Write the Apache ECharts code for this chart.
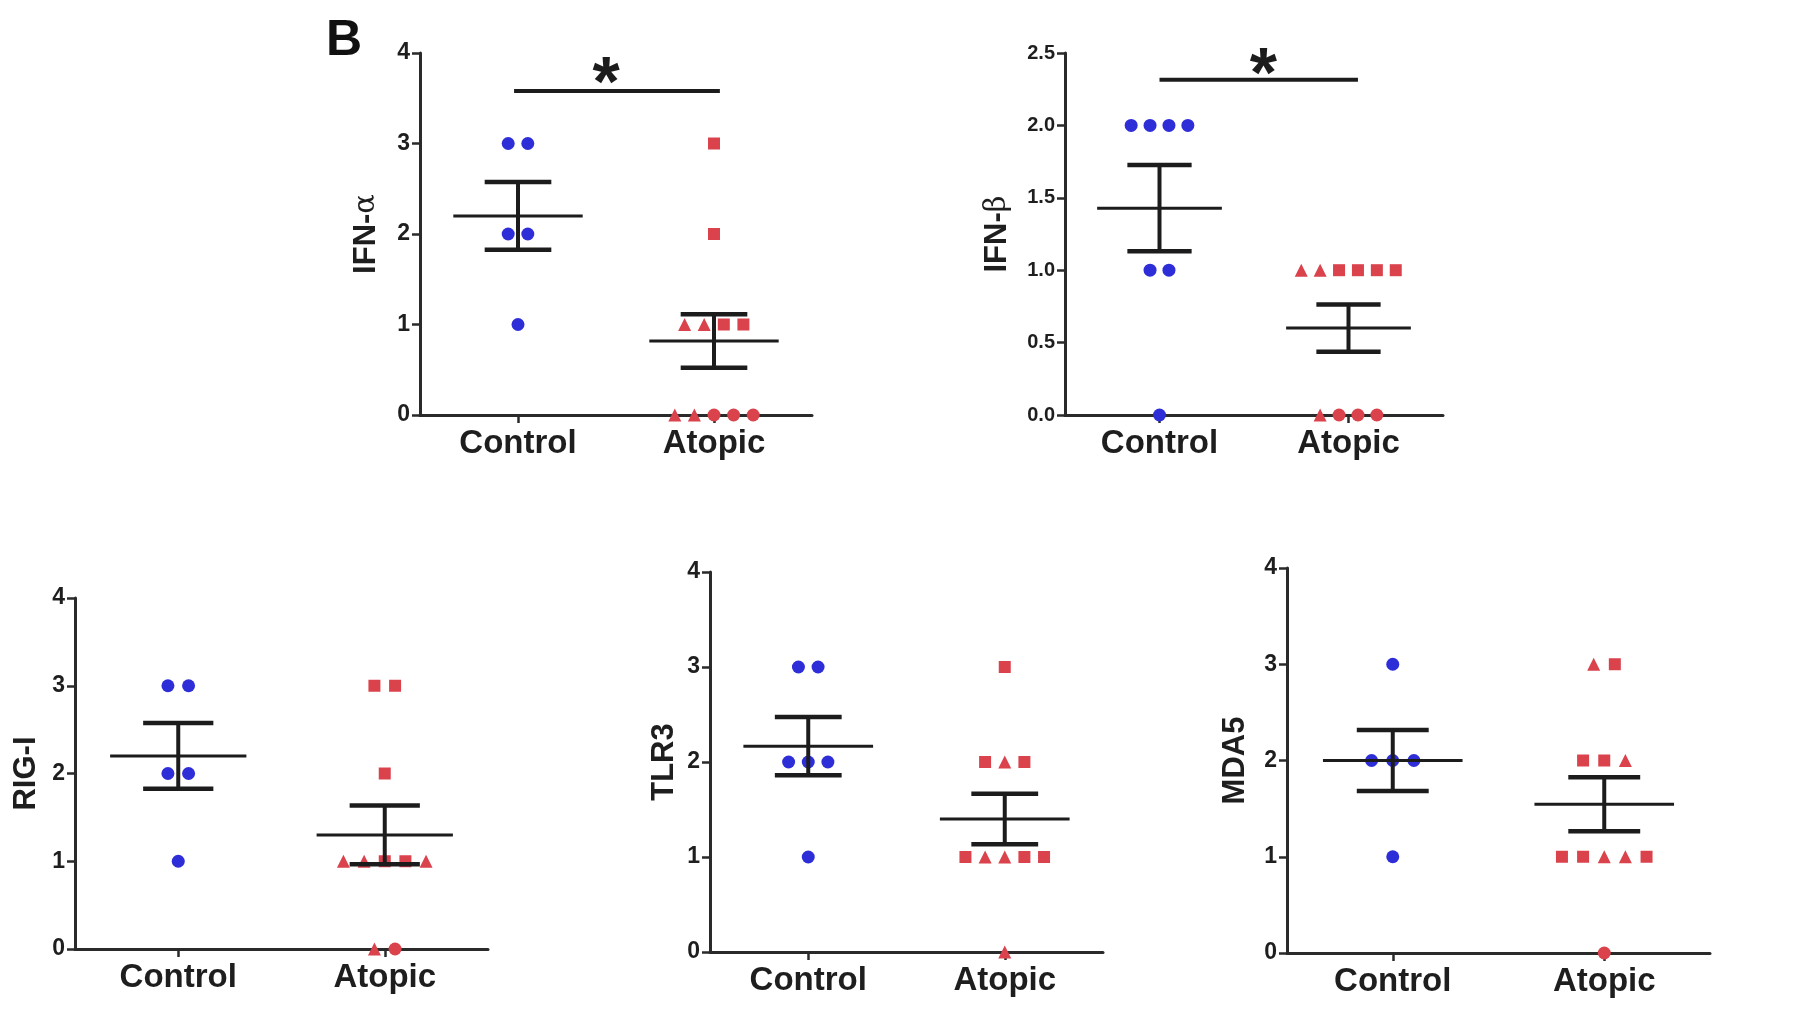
<!DOCTYPE html>
<html><head><meta charset="utf-8">
<script src="https://cdn.jsdelivr.net/npm/echarts@6/dist/echarts.min.js"></script>
<style>html,body{margin:0;padding:0;background:#fff}#c{width:1800px;height:1022px}</style>
</head><body><div id="c"></div>
<script>
// ---------------- DATA ----------------
const groups = ['Control', 'Atopic'];

const ifnA_control = [3, 3, 2, 2, 1];
const ifnA_atopic = [3, 2, 1, 1, 1, 1, 0, 0, 0, 0, 0];
const ifnA_atopicShapes = ['s', 's', 't', 't', 's', 's', 't', 't', 'c', 'c', 'c'];
const ifnA_ticks = [0, 1, 2, 3, 4];
const ifnA_sig = [0.98, 2.03, 3.58, 1.45, 3.81];   // x from, x to, bar y, star x, star y

const ifnB_control = [2, 2, 2, 2, 1, 1, 0];
const ifnB_atopic = [1, 1, 1, 1, 1, 1, 0, 0, 0, 0];
const ifnB_atopicShapes = ['t', 't', 's', 's', 's', 's', 't', 'c', 'c', 'c'];
const ifnB_ticks = [0, 0.5, 1.0, 1.5, 2.0, 2.5];
const ifnB_sig = [1.0, 2.05, 2.315, 1.55, 2.45];

const rig_control = [3, 3, 2, 2, 1];
const rig_atopic = [3, 3, 2, 1, 1, 1, 1, 1, 0, 0];
const rig_atopicShapes = ['s', 's', 's', 't', 't', 's', 's', 't', 't', 'c'];
const rig_ticks = [0, 1, 2, 3, 4];

const tlr_control = [3, 3, 2, 2, 2, 1];
const tlr_atopic = [3, 2, 2, 2, 1, 1, 1, 1, 1, 0];
const tlr_atopicShapes = ['s', 's', 't', 's', 's', 't', 't', 's', 's', 't'];
const tlr_ticks = [0, 1, 2, 3, 4];

const mda_control = [3, 2, 2, 2, 1];
const mda_atopic = [3, 3, 2, 2, 2, 1, 1, 1, 1, 1, 0];
const mda_atopicShapes = ['t', 's', 's', 's', 't', 's', 's', 't', 't', 's', 'c'];
const mda_ticks = [0, 1, 2, 3, 4];

// ---------------- LAYOUT / STYLE ----------------
const FONT = 'Liberation Sans, Arial, sans-serif';
const BLUE = '#2e2ed8';
const RED = '#da424c';
const INK = '#1c1c1c';
const SPACING = 0.1;      // horizontal spacing of equal values (x units)
const MEAN_HALF = 0.33;
const CAP_HALF = 0.17;
const shapeMap = { c: 'circle', s: 'rect', t: 'triangle' };
const sizeMap = { c: 13, s: 12, t: 13 };

const panels = [
  { name: 'IFN-{g|α}', ctrl: ifnA_control, atop: ifnA_atopic, shapes: ifnA_atopicShapes, ticks: ifnA_ticks, sig: ifnA_sig,
    grid: { left: 420, top: 53, width: 392, height: 362 }, nameGap: 38, fmt: v => String(v), labelSize: 23 },
  { name: 'IFN-{g|β}', ctrl: ifnB_control, atop: ifnB_atopic, shapes: ifnB_atopicShapes, ticks: ifnB_ticks, sig: ifnB_sig,
    grid: { left: 1065, top: 53, width: 378, height: 362 }, nameGap: 52, fmt: v => v.toFixed(1), labelSize: 20 },
  { name: 'RIG-I', ctrl: rig_control, atop: rig_atopic, shapes: rig_atopicShapes, ticks: rig_ticks,
    grid: { left: 75, top: 598, width: 413, height: 351 }, nameGap: 33, fmt: v => String(v), labelSize: 23 },
  { name: 'TLR3', ctrl: tlr_control, atop: tlr_atopic, shapes: tlr_atopicShapes, ticks: tlr_ticks,
    grid: { left: 710, top: 572, width: 393, height: 380 }, nameGap: 30, fmt: v => String(v), labelSize: 23 },
  { name: 'MDA5', ctrl: mda_control, atop: mda_atopic, shapes: mda_atopicShapes, ticks: mda_ticks,
    grid: { left: 1287, top: 568, width: 423, height: 385 }, nameGap: 36, fmt: v => String(v), labelSize: 23 }
];

function swarm(values, center) {
  const counts = {}, seen = {};
  values.forEach(v => counts[v] = (counts[v] || 0) + 1);
  return values.map(v => {
    const i = seen[v] || 0; seen[v] = i + 1;
    const n = counts[v];
    return [center + (i - (n - 1) / 2) * SPACING, v];
  });
}
function stats(values) {
  const n = values.length;
  const m = values.reduce((a, b) => a + b, 0) / n;
  const sd = Math.sqrt(values.reduce((a, b) => a + (b - m) * (b - m), 0) / (n - 1));
  return [m, sd / Math.sqrt(n)];
}

const grid = [], xAxis = [], yAxis = [], series = [];
panels.forEach((p, k) => {
  grid.push(Object.assign({ containLabel: false }, p.grid));
  xAxis.push({
    type: 'value', gridIndex: k, min: 0.5, max: 2.5,
    splitLine: { show: false },
    axisLine: { show: true, lineStyle: { color: '#2a2a2a', width: 3 } },
    axisTick: { show: true, customValues: [1, 2], length: 8, lineStyle: { color: '#2a2a2a', width: 2.5 } },
    axisLabel: { show: true, customValues: [1, 2], formatter: v => groups[Math.round(v) - 1],
      fontFamily: FONT, fontWeight: 'bold', fontSize: 33, color: '#1e1e1e', margin: 12 }
  });
  const tmax = p.ticks[p.ticks.length - 1];
  const tint = p.ticks[1] - p.ticks[0];
  yAxis.push({
    type: 'value', gridIndex: k, min: p.ticks[0], max: tmax, interval: tint,
    splitLine: { show: false },
    axisLine: { show: true, lineStyle: { color: '#2a2a2a', width: 3 } },
    axisTick: { show: true, length: 8, lineStyle: { color: '#2a2a2a', width: 2.5 } },
    axisLabel: { formatter: p.fmt, fontFamily: FONT, fontWeight: 'bold', fontSize: p.labelSize, color: '#1e1e1e', margin: 10 },
    name: p.name, nameLocation: 'middle', nameGap: p.nameGap, nameRotate: 90,
    nameTextStyle: {
      fontFamily: FONT, fontWeight: 'bold', fontSize: 31, color: '#1e1e1e',
      rich: {
        g: { fontFamily: 'DejaVu Serif, serif', fontWeight: 'normal', fontSize: 29, color: '#1e1e1e' }
      }
    }
  });
  series.push({
    type: 'scatter', xAxisIndex: k, yAxisIndex: k, z: 2, silent: true,
    symbol: 'circle', symbolSize: 13, itemStyle: { color: BLUE, opacity: 1 },
    data: swarm(p.ctrl, 1)
  });
  series.push({
    type: 'scatter', xAxisIndex: k, yAxisIndex: k, z: 2, silent: true,
    itemStyle: { color: RED, opacity: 1 },
    data: swarm(p.atop, 2).map((d, i) => ({ value: d, symbol: shapeMap[p.shapes[i]], symbolSize: sizeMap[p.shapes[i]] }))
  });
  const sc = stats(p.ctrl), sa = stats(p.atop);
  series.push({
    type: 'custom', xAxisIndex: k, yAxisIndex: k, z: 5, silent: true, clip: false,
    data: [[1, sc[0], sc[1]], [2, sa[0], sa[1]]],
    encode: { x: 0, y: 1 },
    renderItem: (params, api) => {
      const x = api.value(0), m = api.value(1), s = api.value(2);
      const L = (x1, y1, x2, y2, w) => {
        const a = api.coord([x1, y1]), b = api.coord([x2, y2]);
        return { type: 'line', shape: { x1: a[0], y1: a[1], x2: b[0], y2: b[1] }, style: { stroke: INK, lineWidth: w } };
      };
      return { type: 'group', children: [
        L(x - MEAN_HALF, m, x + MEAN_HALF, m, 3),
        L(x, m - s, x, m + s, 4),
        L(x - CAP_HALF, m + s, x + CAP_HALF, m + s, 4.5),
        L(x - CAP_HALF, m - s, x + CAP_HALF, m - s, 4.5)
      ] };
    }
  });
  if (p.sig) {
    series.push({
      type: 'custom', xAxisIndex: k, yAxisIndex: k, z: 5, silent: true, clip: false,
      data: [p.sig], encode: { x: 0, y: 2 },
      renderItem: (params, api) => {
        const a = api.coord([api.value(0), api.value(2)]);
        const b = api.coord([api.value(1), api.value(2)]);
        const st = api.coord([api.value(3), api.value(4)]);
        return { type: 'group', children: [
          { type: 'line', shape: { x1: a[0], y1: a[1], x2: b[0], y2: b[1] }, style: { stroke: INK, lineWidth: 4 } },
          { type: 'text', x: st[0], y: st[1] + 17,
            style: { text: '*', font: 'bold 70px ' + FONT, fill: INK, align: 'center', verticalAlign: 'middle' } }
        ] };
      }
    });
  }
});

const chart = echarts.init(document.getElementById('c'), null, { renderer: 'canvas' });
chart.setOption({
  animation: false,
  backgroundColor: '#ffffff',
  grid, xAxis, yAxis, series,
  graphic: [{ type: 'text', left: 326, top: 16,
    style: { text: 'B', font: 'bold 50px ' + FONT, fill: '#111' } }]
});
</script></body></html>
